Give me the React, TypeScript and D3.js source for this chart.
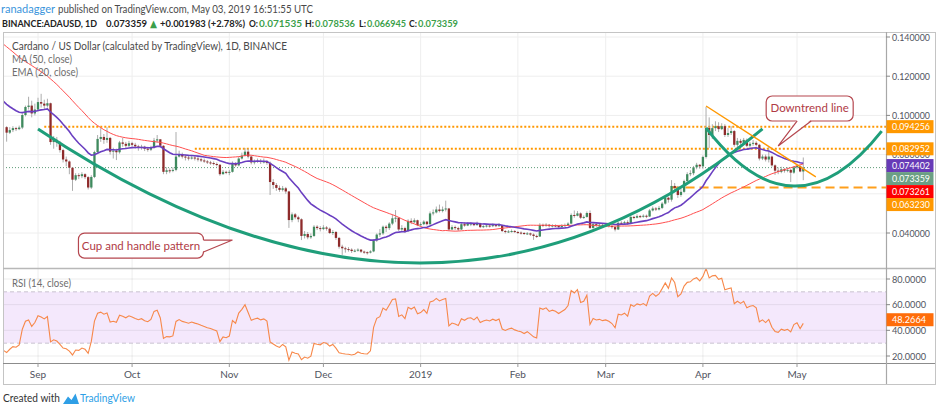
import * as d3 from "d3";

// ADA/USD daily chart with MA50, EMA20, RSI14 and cup-and-handle drawings

const FONT = "Lato, 'Open Sans', 'DejaVu Sans', sans-serif";
const DAY = 86400000;
const WARMUP_START = Date.UTC(2018, 5, 14);

// hidden closes Jun 14 - Aug 21 2018, only used to warm up the indicators
const warmupCloses = [
  0.155, 0.158, 0.152, 0.150, 0.154, 0.157, 0.160, 0.158, 0.155, 0.150,
  0.148, 0.152, 0.155, 0.158, 0.156, 0.154, 0.157, 0.160, 0.158, 0.156,
  0.158, 0.160, 0.162, 0.159, 0.161, 0.157, 0.154, 0.152, 0.155, 0.158,
  0.160, 0.163, 0.161, 0.158, 0.156, 0.159, 0.162, 0.160, 0.157, 0.155,
  0.158, 0.156, 0.153, 0.151, 0.154, 0.152, 0.150, 0.148, 0.146, 0.143,
  0.140, 0.130, 0.124, 0.118, 0.112, 0.108, 0.104, 0.100, 0.097, 0.094,
  0.092, 0.095, 0.098, 0.096, 0.093, 0.095, 0.097, 0.095, 0.094,
];

// daily candles Aug 22 2018 - May 03 2019 (open = previous close)
const closes = [
  0.0912, 0.0925, 0.0935, 0.0930, 0.0938, 0.1002, 0.1043, 0.1050, 0.1010, 0.1030,
  // Sep
  0.1068, 0.1060, 0.1050, 0.1062, 0.0864, 0.0875, 0.0862, 0.0823, 0.0775, 0.0765,
  0.0733, 0.0672, 0.0695, 0.0690, 0.0700, 0.0685, 0.0632, 0.0686, 0.0813, 0.0880,
  0.0890, 0.0875, 0.0885, 0.0815, 0.0820, 0.0812, 0.0862, 0.0855, 0.0845, 0.0858,
  // Oct
  0.0850, 0.0842, 0.0835, 0.0840, 0.0830, 0.0825, 0.0835, 0.0872, 0.0878, 0.0845,
  0.0712, 0.0720, 0.0718, 0.0722, 0.0790, 0.0800, 0.0790, 0.0785, 0.0780, 0.0785,
  0.0780, 0.0776, 0.0770, 0.0765, 0.0760, 0.0757, 0.0752, 0.0748, 0.0700, 0.0712,
  0.0708,
  // Nov
  0.0712, 0.0755, 0.0745, 0.0780, 0.0795, 0.0815, 0.0790, 0.0760, 0.0765, 0.0768,
  0.0762, 0.0765, 0.0758, 0.0660, 0.0645, 0.0630, 0.0620, 0.0628, 0.0612, 0.0466,
  0.0495, 0.0480, 0.0470, 0.0385, 0.0395, 0.0378, 0.0385, 0.0432, 0.0425, 0.0420,
  // Dec
  0.0428, 0.0422, 0.0400, 0.0405, 0.0375, 0.0330, 0.0322, 0.0318, 0.0315, 0.0308,
  0.0310, 0.0315, 0.0305, 0.0302, 0.0300, 0.0306, 0.0362, 0.0392, 0.0398, 0.0432,
  0.0425, 0.0448, 0.0475, 0.0478, 0.0418, 0.0425, 0.0410, 0.0462, 0.0455, 0.0465,
  0.0440,
  // Jan
  0.0445, 0.0458, 0.0445, 0.0500, 0.0505, 0.0520, 0.0512, 0.0520, 0.0525, 0.0418,
  0.0430, 0.0425, 0.0418, 0.0445, 0.0438, 0.0446, 0.0448, 0.0440, 0.0450, 0.0430,
  0.0435, 0.0438, 0.0435, 0.0440, 0.0436, 0.0440, 0.0410, 0.0405, 0.0408, 0.0410,
  0.0405,
  // Feb
  0.0402, 0.0400, 0.0395, 0.0398, 0.0392, 0.0385, 0.0382, 0.0441, 0.0438, 0.0442,
  0.0435, 0.0438, 0.0436, 0.0432, 0.0436, 0.0440, 0.0448, 0.0492, 0.0488, 0.0500,
  0.0478, 0.0482, 0.0502, 0.0426, 0.0445, 0.0440, 0.0442, 0.0438,
  // Mar
  0.0440, 0.0436, 0.0430, 0.0418, 0.0452, 0.0450, 0.0455, 0.0448, 0.0482, 0.0478,
  0.0486, 0.0484, 0.0488, 0.0484, 0.0515, 0.0525, 0.0520, 0.0528, 0.0550, 0.0580,
  0.0570, 0.0640, 0.0630, 0.0594, 0.0610, 0.0665, 0.0700, 0.0705, 0.0735, 0.0748,
  0.0740,
  // Apr
  0.0788, 0.0936, 0.0900, 0.0935, 0.0945, 0.0930, 0.0945, 0.0900, 0.0910, 0.0920,
  0.0850, 0.0870, 0.0860, 0.0875, 0.0845, 0.0855, 0.0860, 0.0850, 0.0780, 0.0790,
  0.0775, 0.0790, 0.0745, 0.0718, 0.0712, 0.0725, 0.0718, 0.0722, 0.0708, 0.0735,
  // May
  0.0742, 0.07138, 0.073359,
];

const highs = [
  0.0945, 0.0940, 0.0945, 0.0942, 0.0948, 0.1010, 0.1050, 0.1095, 0.1075, 0.1060,
  0.1090, 0.1110, 0.1080, 0.1085, 0.1065, 0.0895, 0.0890, 0.0870, 0.0830, 0.0790,
  0.0770, 0.0735, 0.0705, 0.0705, 0.0710, 0.0705, 0.0690, 0.0695, 0.0820, 0.0900,
  0.0935, 0.0905, 0.0940, 0.0890, 0.0835, 0.0830, 0.0870, 0.0885, 0.0865, 0.0870,
  0.0865, 0.0860, 0.0850, 0.0850, 0.0845, 0.0840, 0.0845, 0.0885, 0.0900, 0.0875,
  0.0848, 0.0735, 0.0730, 0.0735, 0.0915, 0.0820, 0.0810, 0.0800, 0.0795, 0.0795,
  0.0795, 0.0790, 0.0785, 0.0780, 0.0772, 0.0768, 0.0765, 0.0760, 0.0752, 0.0722,
  0.0718,
  0.0722, 0.0765, 0.0762, 0.0790, 0.0810, 0.0834, 0.0830, 0.0795, 0.0775, 0.0780,
  0.0778, 0.0780, 0.0772, 0.0765, 0.0675, 0.0655, 0.0642, 0.0640, 0.0635, 0.0615,
  0.0505, 0.0502, 0.0488, 0.0475, 0.0410, 0.0405, 0.0398, 0.0440, 0.0440, 0.0435,
  0.0440, 0.0435, 0.0428, 0.0415, 0.0410, 0.0380, 0.0340, 0.0330, 0.0328, 0.0322,
  0.0318, 0.0322, 0.0318, 0.0310, 0.0306, 0.0312, 0.0368, 0.0398, 0.0420, 0.0438,
  0.0440, 0.0455, 0.0495, 0.0517, 0.0480, 0.0440, 0.0432, 0.0470, 0.0475, 0.0475,
  0.0468,
  0.0455, 0.0465, 0.0462, 0.0510, 0.0520, 0.0535, 0.0545, 0.0535, 0.0565, 0.0528,
  0.0440, 0.0438, 0.0432, 0.0452, 0.0455, 0.0455, 0.0455, 0.0452, 0.0458, 0.0452,
  0.0440, 0.0445, 0.0442, 0.0448, 0.0444, 0.0450, 0.0442, 0.0415, 0.0415, 0.0418,
  0.0415,
  0.0410, 0.0408, 0.0405, 0.0405, 0.0402, 0.0398, 0.0392, 0.0450, 0.0448, 0.0450,
  0.0446, 0.0445, 0.0444, 0.0440, 0.0444, 0.0448, 0.0455, 0.0500, 0.0515, 0.0512,
  0.0505, 0.0490, 0.0510, 0.0515, 0.0452, 0.0450, 0.0450, 0.0448,
  0.0448, 0.0445, 0.0440, 0.0435, 0.0458, 0.0460, 0.0462, 0.0465, 0.0490, 0.0488,
  0.0495, 0.0492, 0.0495, 0.0494, 0.0522, 0.0535, 0.0532, 0.0538, 0.0558, 0.0590,
  0.0585, 0.0670, 0.0655, 0.0640, 0.0625, 0.0672, 0.0710, 0.0720, 0.0742, 0.0758,
  0.0752,
  0.0795, 0.1043, 0.0990, 0.0955, 0.0970, 0.0965, 0.0960, 0.0955, 0.0935, 0.0945,
  0.0925, 0.0885, 0.0880, 0.0885, 0.0882, 0.0865, 0.0875, 0.0868, 0.0855, 0.0800,
  0.0800, 0.0840, 0.0795, 0.0750, 0.0735, 0.0738, 0.0732, 0.0735, 0.0728, 0.0742,
  0.0752, 0.0745, 0.078536,
];

const lows = [
  0.0866, 0.0905, 0.0915, 0.0920, 0.0925, 0.0930, 0.0995, 0.1030, 0.0990, 0.1000,
  0.1020, 0.1040, 0.1030, 0.1040, 0.0850, 0.0830, 0.0840, 0.0810, 0.0760, 0.0740,
  0.0700, 0.0615, 0.0665, 0.0675, 0.0680, 0.0675, 0.0622, 0.0625, 0.0680, 0.0805,
  0.0865, 0.0855, 0.0860, 0.0800, 0.0780, 0.0772, 0.0805, 0.0840, 0.0830, 0.0838,
  0.0840, 0.0830, 0.0820, 0.0825, 0.0818, 0.0815, 0.0818, 0.0830, 0.0860, 0.0835,
  0.0700, 0.0700, 0.0705, 0.0710, 0.0715, 0.0785, 0.0780, 0.0770, 0.0770, 0.0775,
  0.0770, 0.0765, 0.0762, 0.0758, 0.0752, 0.0748, 0.0745, 0.0740, 0.0692, 0.0698,
  0.0700,
  0.0695, 0.0708, 0.0738, 0.0740, 0.0775, 0.0790, 0.0780, 0.0750, 0.0750, 0.0758,
  0.0752, 0.0755, 0.0748, 0.0594, 0.0625, 0.0615, 0.0610, 0.0612, 0.0600, 0.0426,
  0.0455, 0.0470, 0.0455, 0.0364, 0.0372, 0.0368, 0.0370, 0.0380, 0.0415, 0.0408,
  0.0415, 0.0412, 0.0395, 0.0390, 0.0365, 0.0320, 0.0288, 0.0300, 0.0305, 0.0298,
  0.0302, 0.0305, 0.0298, 0.0294, 0.0290, 0.0296, 0.0302, 0.0355, 0.0380, 0.0390,
  0.0405, 0.0415, 0.0440, 0.0455, 0.0410, 0.0410, 0.0400, 0.0405, 0.0445, 0.0450,
  0.0435,
  0.0432, 0.0440, 0.0438, 0.0440, 0.0490, 0.0500, 0.0505, 0.0505, 0.0510, 0.0410,
  0.0415, 0.0415, 0.0410, 0.0415, 0.0432, 0.0435, 0.0435, 0.0435, 0.0438, 0.0425,
  0.0425, 0.0428, 0.0428, 0.0430, 0.0430, 0.0432, 0.0405, 0.0398, 0.0400, 0.0402,
  0.0400,
  0.0395, 0.0392, 0.0390, 0.0390, 0.0385, 0.0365, 0.0375, 0.0380, 0.0430, 0.0432,
  0.0428, 0.0428, 0.0430, 0.0425, 0.0428, 0.0432, 0.0436, 0.0445, 0.0478, 0.0485,
  0.0472, 0.0472, 0.0478, 0.0420, 0.0422, 0.0432, 0.0430, 0.0430,
  0.0432, 0.0428, 0.0422, 0.0408, 0.0415, 0.0442, 0.0445, 0.0440, 0.0445, 0.0470,
  0.0475, 0.0476, 0.0478, 0.0476, 0.0482, 0.0510, 0.0512, 0.0515, 0.0522, 0.0545,
  0.0555, 0.0560, 0.0615, 0.0579, 0.0585, 0.0605, 0.0655, 0.0690, 0.0695, 0.0725,
  0.0728,
  0.0728, 0.0780, 0.0834, 0.0880, 0.0920, 0.0915, 0.0925, 0.0890, 0.0890, 0.0900,
  0.0840, 0.0838, 0.0850, 0.0852, 0.0838, 0.0835, 0.0845, 0.0842, 0.0770, 0.0772,
  0.0765, 0.0760, 0.0738, 0.0696, 0.0700, 0.0705, 0.0708, 0.0710, 0.0660, 0.0702,
  0.0728, 0.0710, 0.066945,
];

const priceTicks = [0.04, 0.06, 0.08, 0.1, 0.12, 0.14];
const rsiTicks = [20, 40, 60, 80];
const rsiBand = [30, 70];

const resistanceLevels = [
  { price: 0.094256, from: "2018-09-03" },
  { price: 0.082952, from: "2018-10-21" },
];
const supportLevel = { price: 0.06323, from: "2019-03-22" };
const lastClose = 0.073359;

const downtrendLine: [string, number][] = [["2019-04-02", 0.1048], ["2019-05-07", 0.0686]];
// quadratic curves: start, control, end
const cupCurve: [string, number][] = [["2018-09-01", 0.0931], ["2019-01-07", -0.0437], ["2019-04-20", 0.0931]];
const handleCurve: [string, number][] = [["2019-04-02", 0.0936], ["2019-04-30", 0.0351], ["2019-05-28", 0.092]];

const priceLabels = [
  { value: 0.094256, color: "#ff9800" },
  { value: 0.082952, color: "#ff9800" },
  { value: 0.074402, color: "#673ab7" },
  { value: 0.073359, color: "#6b9f84" },
  { value: 0.073261, color: "#ff0000" },
  { value: 0.06323, color: "#ff9800" },
];
const rsiLabel = { value: 48.2664, color: "#ff6d0a" };

const callouts = [
  { text: "Downtrend line", tip: ["2019-04-25", 0.0844] as [string, number], box: [-12, -50, 87, 25], side: "bottom", base: [19, 33] },
  { text: "Cup and handle pattern", tip: ["2018-11-02", 0.0364] as [string, number], box: [-154, -7, 125, 25], side: "right", base: [0, 12] },
];

// header pieces: text, x, width, colour
const GREEN = "#3c9f4a";
const headerLine1 = [
  { t: "ranadagger", x: 1, w: 54, c: "#3b95dc" },
  { t: "published on TradingView.com, May 03, 2019 16:51:55 UTC", x: 58, w: 255, c: "#4a4a4a" },
];
const headerLine2 = [
  { t: "BINANCE:ADAUSD, 1D", x: 2, w: 95, c: "#222" },
  { t: "0.073359", x: 106, w: 41, c: "#222" },
  { t: "▲", x: 150, w: 7, c: GREEN },
  { t: "+0.001983 (+2.78%)", x: 160, w: 85, c: "#222" },
  { t: "O:", x: 249, w: 9, c: "#222" },
  { t: "0.071535", x: 259, w: 43, c: GREEN },
  { t: "H:", x: 305, w: 9, c: "#222" },
  { t: "0.078536", x: 315, w: 40, c: GREEN },
  { t: "L:", x: 359, w: 7, c: "#222" },
  { t: "0.066945", x: 367, w: 39, c: GREEN },
  { t: "C:", x: 409, w: 8, c: "#222" },
  { t: "0.073359", x: 418, w: 40, c: GREEN },
];

const parse = d3.utcParse("%Y-%m-%d");

// indicators
const allCloses = [...warmupCloses, ...closes];
const offset = warmupCloses.length;
const dateAt = (i: number) => new Date(WARMUP_START + i * DAY);

function sma(v: number[], n: number) {
  return v.map((_, i) => (i < n - 1 ? NaN : d3.mean(v.slice(i - n + 1, i + 1)) as number));
}
function ema(v: number[], n: number) {
  const k = 2 / (n + 1);
  const out: number[] = [];
  let prev = NaN;
  v.forEach((c, i) => {
    if (i < n - 1) out.push(NaN);
    else if (i === n - 1) { prev = d3.mean(v.slice(0, n)) as number; out.push(prev); }
    else { prev = c * k + prev * (1 - k); out.push(prev); }
  });
  return out;
}
function rsi(v: number[], n: number) {
  const out: number[] = v.map(() => NaN);
  let up = 0, dn = 0;
  for (let i = 1; i < v.length; i++) {
    const ch = v[i] - v[i - 1];
    const u = Math.max(ch, 0), d = Math.max(-ch, 0);
    if (i <= n) { up += u / n; dn += d / n; }
    else { up = (up * (n - 1) + u) / n; dn = (dn * (n - 1) + d) / n; }
    if (i >= n) out[i] = dn === 0 ? 100 : 100 - 100 / (1 + up / dn);
  }
  return out;
}

const ma50 = sma(allCloses, 50);
const ema20 = ema(allCloses, 20);
const rsi14 = rsi(allCloses, 14);

const candles = closes.map((c, i) => {
  const open = allCloses[offset + i - 1];
  return {
    date: dateAt(offset + i),
    open,
    close: c,
    high: Math.max(highs[i], open, c),
    low: Math.min(lows[i], open, c),
  };
});

const series = (vals: number[]) =>
  vals.map((v, i) => ({ date: dateAt(i), v })).filter((d, i) => i >= offset - 3 && !isNaN(d.v));

const L = 3, R = 886, TOP = 32, PRICE_BOTTOM = 268, RSI_BOTTOM = 363, BOTTOM = 384, AXIS_END = 935;

export default function App() {
  const x = d3.scaleUtc()
    .domain([new Date(Date.UTC(2018, 8, 1)), new Date(Date.UTC(2019, 4, 1))])
    .range([38, 797]);
  const y = d3.scaleLinear().domain([0.04, 0.14]).range([233, 37]);
  const yR = d3.scaleLinear().domain([20, 80]).range([356, 279]);

  const months = d3.utcMonths(new Date(Date.UTC(2018, 8, 1)), new Date(Date.UTC(2019, 4, 2)));
  const monthFmt = (d: Date) => (d.getUTCMonth() === 0 ? d3.utcFormat("%Y")(d) : d3.utcFormat("%b")(d));

  const line = d3.line<{ date: Date; v: number }>().x((d) => x(d.date)).y((d) => y(d.v));
  const rsiLine = d3.line<{ date: Date; v: number }>().x((d) => x(d.date)).y((d) => yR(d.v));

  const quad = (pts: [string, number][]) => {
    const [a, c, b] = pts.map(([d, p]) => [x(parse(d) as Date), y(p)]);
    const path = d3.path();
    path.moveTo(a[0], a[1]);
    path.quadraticCurveTo(c[0], c[1], b[0], b[1]);
    return path.toString();
  };

  // stack right-axis labels so they don't overlap
  const stacked: { value: number; color: string; cy: number }[] = [];
  [...priceLabels].sort((a, b) => y(a.value) - y(b.value)).forEach((l) => {
    const prev = stacked[stacked.length - 1];
    const cy = prev ? Math.max(y(l.value), prev.cy + 13) : y(l.value);
    stacked.push({ ...l, cy });
  });
  // tick texts hidden completely behind a value label are not drawn
  const visibleTicks = priceTicks.filter(
    (t) => !stacked.some((l) => Math.abs(l.cy - y(t)) < 2.5)
  );

  const fmt6 = d3.format(".6f");
  const fmt4 = d3.format(".4f");
  const axisText = "#50535e";

  return (
    <svg width={939} height={410} style={{ position: "absolute", left: 0, top: 0, background: "#fff" }} fontFamily={FONT}>
      <defs>
        <clipPath id="pricePane"><rect x={L} y={TOP} width={R - L} height={PRICE_BOTTOM - TOP} /></clipPath>
        <clipPath id="rsiPane"><rect x={L} y={PRICE_BOTTOM} width={R - L} height={RSI_BOTTOM - PRICE_BOTTOM} /></clipPath>
      </defs>
      <rect width={939} height={410} fill="#fff" />

      {/* header */}
      {headerLine1.map((s) => (
        <text key={s.t} x={s.x} y={13} fontSize={11.5} fill={s.c} textLength={s.w} lengthAdjust="spacingAndGlyphs">{s.t}</text>
      ))}
      {headerLine2.map((s) => (
        <text key={s.x} x={s.x} y={27} fontSize={10.2} fontWeight="bold" fill={s.c} textLength={s.w} lengthAdjust="spacingAndGlyphs">{s.t}</text>
      ))}

      {/* grid */}
      {months.map((m) => (
        <line key={+m} x1={x(m)} x2={x(m)} y1={TOP} y2={RSI_BOTTOM} stroke="#eeeeee" />
      ))}
      {priceTicks.map((t) => (
        <line key={t} x1={L} x2={R} y1={y(t)} y2={y(t)} stroke="#eeeeee" />
      ))}

      {/* RSI background */}
      <rect x={L} width={R - L} y={yR(rsiBand[1])} height={yR(rsiBand[0]) - yR(rsiBand[1])} fill="#f4e8fc" />
      {rsiTicks.map((t) => (
        <line key={t} x1={L} x2={R} y1={yR(t)} y2={yR(t)} stroke="#000" strokeOpacity={0.07} />
      ))}
      {rsiBand.map((t) => (
        <line key={t} x1={L} x2={R} y1={yR(t)} y2={yR(t)} stroke="#c9c2d0" strokeDasharray="4 3" />
      ))}

      {/* price pane */}
      <g clipPath="url(#pricePane)">
        <line x1={L} x2={R} y1={y(lastClose)} y2={y(lastClose)} stroke="#5e9c78" strokeDasharray="1 2" />
        {resistanceLevels.map((l) => (
          <line key={l.price} x1={x(parse(l.from) as Date)} x2={R} y1={y(l.price)} y2={y(l.price)}
            stroke="#ff9800" strokeWidth={2} strokeDasharray="2 2" />
        ))}
        <line x1={x(parse(supportLevel.from) as Date)} x2={R} y1={y(supportLevel.price)} y2={y(supportLevel.price)}
          stroke="#ff9f1c" strokeWidth={2} strokeDasharray="9 5" />

        {candles.map((c) => {
          const cx = x(c.date);
          const up = c.close >= c.open;
          const top = y(Math.max(c.open, c.close));
          const h = Math.max(1, Math.abs(y(c.open) - y(c.close)));
          return (
            <g key={+c.date}>
              <line x1={cx} x2={cx} y1={y(c.high)} y2={y(c.low)} stroke="#a3a3a3" strokeWidth={0.9} />
              <rect x={cx - 1.15} width={2.3} y={top} height={h} fill={up ? "#3f8a5e" : "#8e2b2b"} />
            </g>
          );
        })}

        <path d={line(series(ma50)) || ""} fill="none" stroke="#ff4f4f" strokeWidth={1} />
        <path d={line(series(ema20)) || ""} fill="none" stroke="#6a3fc1" strokeWidth={1.6} />

        <path d={quad(cupCurve)} fill="none" stroke="#1f9e7a" strokeWidth={3} />
        <path d={quad(handleCurve)} fill="none" stroke="#1f9e7a" strokeWidth={3} />
        <line
          x1={x(parse(downtrendLine[0][0]) as Date)} y1={y(downtrendLine[0][1])}
          x2={x(parse(downtrendLine[1][0]) as Date)} y2={y(downtrendLine[1][1])}
          stroke="#ff9800" strokeWidth={1.4}
        />

        {callouts.map((c) => {
          const tx = x(parse(c.tip[0]) as Date), ty = y(c.tip[1]);
          const [dx, dy, w, h] = c.box;
          const bx = tx + dx, by = ty + dy;
          let p1: number[], p2: number[], q1: number[], q2: number[];
          if (c.side === "bottom") {
            p1 = [tx + c.base[0], by + h]; p2 = [tx + c.base[1], by + h];
            q1 = [p1[0], p1[1] - 1.5]; q2 = [p2[0], p2[1] - 1.5];
          } else {
            p1 = [bx + w, ty + c.base[0]]; p2 = [bx + w, ty + c.base[1]];
            q1 = [p1[0] - 1.5, p1[1]]; q2 = [p2[0] - 1.5, p2[1]];
          }
          const stroke = "#b5474f";
          return (
            <g key={c.text}>
              <rect x={bx} y={by} width={w} height={h} rx={6} fill="#fff" stroke={stroke} strokeWidth={1.2} />
              <polygon points={`${q1} ${tx},${ty} ${q2}`} fill="#fff" />
              <polyline points={`${p1} ${tx},${ty} ${p2}`} fill="none" stroke={stroke} strokeWidth={1.2} />
              <text x={bx + w / 2} y={by + h / 2 + 4} textAnchor="middle" fontSize={11.5} fill="#b03a45">
                {c.text}
              </text>
            </g>
          );
        })}
      </g>

      {/* legend */}
      <text x={12} y={50} fontSize={11.5} fill="#4a4a4a" textLength={275} lengthAdjust="spacingAndGlyphs">
        Cardano / US Dollar (calculated by TradingView), 1D, BINANCE
      </text>
      <text x={12} y={63} fontSize={11.5} fill="#6e6e6e" textLength={60} lengthAdjust="spacingAndGlyphs">MA (50, close)</text>
      <text x={12} y={76} fontSize={11.5} fill="#6e6e6e" textLength={66} lengthAdjust="spacingAndGlyphs">EMA (20, close)</text>

      {/* RSI pane */}
      <g clipPath="url(#rsiPane)">
        <path d={rsiLine(series(rsi14)) || ""} fill="none" stroke="#f7884a" strokeWidth={1.1} />
      </g>
      <text x={12} y={287} fontSize={11.5} fill="#6e6e6e" textLength={59} lengthAdjust="spacingAndGlyphs">RSI (14, close)</text>

      {/* frame and separators */}
      <rect x={L + 0.5} y={TOP + 0.5} width={AXIS_END - L} height={BOTTOM - TOP} fill="none" stroke="#c4c4c4" />
      <line x1={L} x2={AXIS_END} y1={PRICE_BOTTOM + 0.5} y2={PRICE_BOTTOM + 0.5} stroke="#b8b8b8" strokeWidth={1.5} />
      <line x1={L} x2={AXIS_END} y1={RSI_BOTTOM + 0.5} y2={RSI_BOTTOM + 0.5} stroke="#8c8c8c" strokeWidth={1.2} />
      <line x1={R + 0.5} x2={R + 0.5} y1={TOP} y2={BOTTOM} stroke="#a8a8a8" strokeWidth={1.2} />

      {/* price axis */}
      {visibleTicks.map((t) => (
        <g key={t}>
          <line x1={R} x2={R + 4} y1={y(t)} y2={y(t)} stroke="#888" />
          <text x={892} y={y(t) + 3.5} fontSize={9.5} fill={axisText} textLength={38} lengthAdjust="spacingAndGlyphs">{fmt6(t)}</text>
        </g>
      ))}
      {stacked.map((l) => (
        <g key={l.value}>
          <rect x={R + 0.5} y={l.cy - 6.5} width={47} height={13} fill={l.color} />
          <text x={892} y={l.cy + 3.4} fontSize={9.5} fill="#fff" textLength={38} lengthAdjust="spacingAndGlyphs">{fmt6(l.value)}</text>
        </g>
      ))}

      {/* RSI axis */}
      {rsiTicks.map((t) => (
        <g key={t}>
          <line x1={R} x2={R + 4} y1={yR(t)} y2={yR(t)} stroke="#888" />
          <text x={892} y={yR(t) + 3.5} fontSize={9.5} fill={axisText} textLength={34} lengthAdjust="spacingAndGlyphs">{fmt4(t)}</text>
        </g>
      ))}
      <rect x={R + 0.5} y={yR(rsiLabel.value) - 6.5} width={47} height={13} fill={rsiLabel.color} />
      <text x={892} y={yR(rsiLabel.value) + 3.4} fontSize={9.5} fill="#fff" textLength={34} lengthAdjust="spacingAndGlyphs">{fmt4(rsiLabel.value)}</text>

      {/* time axis */}
      {months.map((m) => (
        <g key={+m}>
          <line x1={x(m)} x2={x(m)} y1={RSI_BOTTOM} y2={RSI_BOTTOM + 4} stroke="#999" />
          <text x={x(m)} y={378} fontSize={10} fill={axisText} textAnchor="middle">{monthFmt(m)}</text>
        </g>
      ))}

      {/* footer */}
      <text x={3} y={402} fontSize={11} fill="#333" textLength={57} lengthAdjust="spacingAndGlyphs">Created with</text>
      <path d="M63,404 L68,396.5 L71.5,400 L75.5,393.5 L79,404 Z" fill="#2f9fe6" />
      <text x={80} y={402} fontSize={11} fill="#2f9fe6" textLength={55} lengthAdjust="spacingAndGlyphs">TradingView</text>
    </svg>
  );
}
